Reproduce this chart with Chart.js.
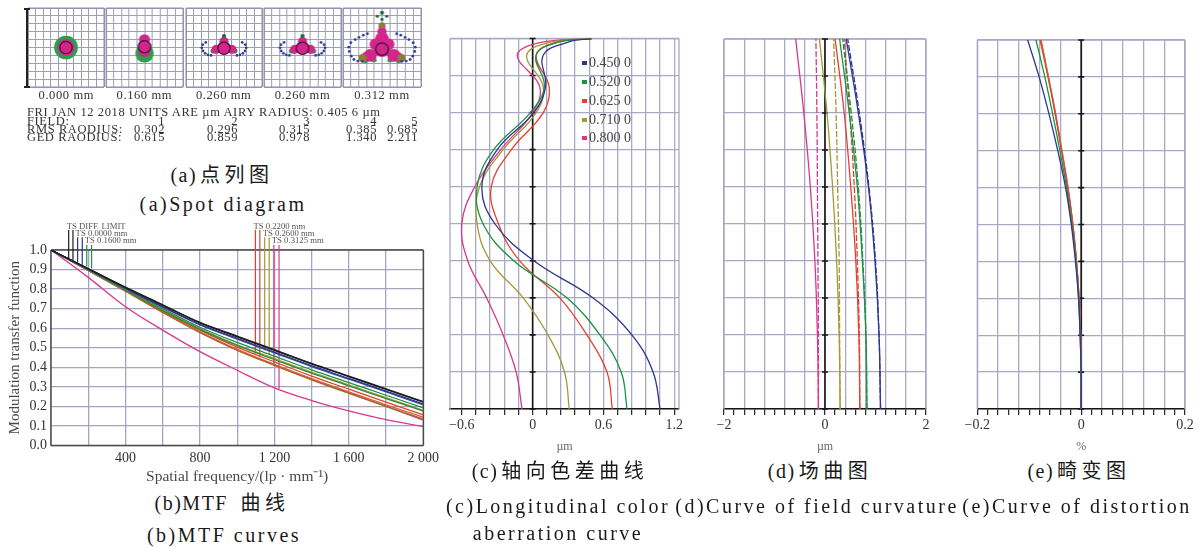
<!DOCTYPE html>
<html><head><meta charset="utf-8">
<script src="https://cdn.jsdelivr.net/npm/chart.js@4.4.1/dist/chart.umd.min.js"></script>
<style>
html,body{margin:0;padding:0;background:#fff;}
#root{position:relative;width:1198px;height:547px;overflow:hidden;background:#fff;font-family:"Liberation Serif","Times New Roman",serif;color:#222;}
#root canvas{position:absolute;}
.t{position:absolute;white-space:nowrap;line-height:1;}
.cap{font-size:20px;letter-spacing:2.5px;color:#1a1a1a;font-family:"Liberation Serif","Noto Sans CJK SC",serif;}
.capz{font-size:20px;letter-spacing:4.5px;color:#1a1a1a;font-family:"Liberation Serif","Noto Sans CJK SC",serif;}
.capz .pre{letter-spacing:1.5px;margin-right:3px;}
.sp{font-size:12.5px;letter-spacing:0.6px;color:#333;}
</style></head><body><div id="root"></div>
<script>
// ================= DATA =================
// (a) spot diagram
const spotFieldLabels = ['0.000 mm','0.160 mm','0.260 mm','0.260 mm','0.312 mm'];
const spotFieldNumbers = ['1','2','3','4','5'];
const spotRmsRadius = ['0.302','0.296','0.315','0.385','0.685'];
const spotGeoRadius = ['0.615','0.859','0.978','1.340','2.211'];
const spotHeader = 'FRI JAN 12 2018 UNITS ARE \u00b5m  AIRY RADIUS:  0.405 6 \u00b5m';
const spotAiryRadius = 0.4056;
const spotAiryCenter = [[0,0],[0,0.05],[0,-0.05],[0,-0.05],[0,-0.1]];
// blobs [x µm, y µm, radius µm]
const spotGreen = [
  [[0,0,0.78]],
  [[0,-0.38,0.6]],
  [[-0.72,-0.22,0.17],[0.72,-0.22,0.17],[0,0.48,0.18]],
  [[-0.72,-0.22,0.17],[0.72,-0.22,0.17],[0,0.48,0.18]],
  [[-1.05,-0.85,0.16],[1.05,-0.85,0.16],[-0.5,-0.8,0.16],[0.5,-0.8,0.16]]
];
const spotDarkGreen = [[],[],[[0,0.72,0.14]],[[0,0.72,0.14]],
  [[0,2.2,0.13],[-0.3,1.98,0.1],[0.3,1.98,0.1],[0,1.78,0.1]]];
const spotMagenta = [
  [[0,0,0.55]],
  [[0,0.5,0.36],[0,0.1,0.42],[0,-0.22,0.4]],
  [[0,-0.02,0.44],[-0.52,-0.12,0.3],[0.52,-0.12,0.3],[0,0.38,0.3]],
  [[0,-0.02,0.44],[-0.52,-0.12,0.3],[0.52,-0.12,0.3],[0,0.38,0.3]],
  [[0,-0.1,0.52],[-0.75,-0.5,0.42],[0.75,-0.5,0.42],[0,0.55,0.44],[-0.42,0.2,0.38],[0.42,0.2,0.38],
   [0,1.0,0.3],[-1.05,-0.6,0.3],[1.05,-0.6,0.3],[0,1.35,0.22]]
];
const spotOlive = [[],[],[],[],[[-1.25,-0.66,0.26],[1.25,-0.66,0.26],[0,1.4,0.2]]];
const spotBlue = [[],[],
  [[-1.2,0.32],[-1.4,0.18],[-1.46,-0.02],[-1.38,-0.22],[-1.24,-0.37],[-1.05,-0.46],[-0.85,-0.5],
   [1.2,0.32],[1.4,0.18],[1.46,-0.02],[1.38,-0.22],[1.24,-0.37],[1.05,-0.46],[0.85,-0.5]],
  [[-1.2,0.32],[-1.4,0.18],[-1.46,-0.02],[-1.38,-0.22],[-1.24,-0.37],[-1.05,-0.46],[-0.85,-0.5],
   [1.2,0.32],[1.4,0.18],[1.46,-0.02],[1.38,-0.22],[1.24,-0.37],[1.05,-0.46],[0.85,-0.5]],
  [[-0.94,0.87],[-1.2,0.78],[-1.48,0.64],[-1.72,0.5],[-2.0,0.3],[-2.13,0.02],[-2.1,-0.25],[-1.97,-0.55],[-1.8,-0.76],[-1.55,-0.86],[-1.26,-0.88],
   [0.94,0.87],[1.2,0.78],[1.48,0.64],[1.72,0.5],[2.0,0.3],[2.13,0.02],[2.1,-0.25],[1.97,-0.55],[1.8,-0.76],[1.55,-0.86],[1.26,-0.88]]
];

// (b) MTF
const mtfFreq  = [0,200,400,600,800,1000,1200,1400,1600,1800,2000];
const mtfDiffT = [1,0.905,0.81,0.72,0.63,0.56,0.49,0.42,0.355,0.29,0.225];
const mtfDiffS = [1,0.904,0.808,0.717,0.627,0.556,0.487,0.417,0.352,0.287,0.222];
const mtf000T  = [1,0.903,0.805,0.71,0.62,0.548,0.478,0.408,0.343,0.278,0.212];
const mtf000S  = [1,0.902,0.803,0.708,0.617,0.544,0.474,0.404,0.339,0.274,0.208];
const mtf016T  = [1,0.9,0.8,0.7,0.605,0.527,0.457,0.387,0.322,0.257,0.192];
const mtf016S  = [1,0.898,0.795,0.69,0.594,0.512,0.44,0.37,0.305,0.24,0.176];
const mtf022T  = [1,0.897,0.794,0.688,0.59,0.503,0.428,0.355,0.288,0.222,0.157];
const mtf022S  = [1,0.896,0.791,0.683,0.582,0.492,0.415,0.342,0.274,0.208,0.145];
const mtf026T  = [1,0.899,0.797,0.694,0.598,0.515,0.445,0.375,0.31,0.245,0.18];
const mtf026S  = [1,0.895,0.789,0.68,0.577,0.487,0.41,0.336,0.267,0.2,0.136];
const mtf031T  = [1,0.895,0.79,0.682,0.58,0.49,0.412,0.338,0.27,0.2,0.13];
const mtf031S  = [1,0.86,0.71,0.59,0.48,0.385,0.295,0.23,0.177,0.132,0.097];
const mtfMarkerLabels = ['TS DIFF. LIMIT','TS 0.0000 mm','TS 0.1600 mm','TS 0.2200 mm','TS 0.2600 mm','TS 0.3125 mm'];
const mtfMarkerFreq = [95,118,143,168,192,218,1098,1122,1148,1172,1197,1225];
const mtfMarkerTop  = [1.102,1.102,1.065,1.065,1.026,1.026,1.102,1.102,1.065,1.065,1.026,1.026];
const mtfMarkerEnd  = [0.955,0.945,0.935,0.925,0.915,0.905,0.47,0.453,0.487,0.462,0.41,0.29];
const mtfXTickValues = [400,800,1200,1600,2000];
const mtfXTickText   = ['400','800','1 200','1 600','2 000'];
const mtfYTickText   = ['0.0','0.1','0.2','0.3','0.4','0.5','0.6','0.7','0.8','0.9','1.0'];

// (c) longitudinal color aberration (x in µm, y = normalized pupil)
const lcaPupil = [0,0.1,0.2,0.3,0.4,0.5,0.6,0.7,0.8,0.87,0.955,0.99,1];
const lca450 = [1.08,1.02,0.84,0.51,0.01,-0.32,-0.43,-0.30,0.01,0.11,0.09,0.30,0.5];
const lca520 = [0.80,0.75,0.57,0.29,-0.16,-0.42,-0.47,-0.33,-0.02,0.10,0.03,0.22,0.5];
const lca625 = [0.675,0.63,0.46,0.23,-0.11,-0.29,-0.35,-0.18,0.09,0.14,0.03,0.2,0.5];
const lca710 = [0.31,0.27,0.13,-0.08,-0.36,-0.47,-0.45,-0.25,0.03,0.09,-0.05,0.15,0.5];
const lca800 = [-0.09,-0.14,-0.25,-0.39,-0.55,-0.60,-0.49,-0.27,0.0,0.06,-0.13,0.08,0.5];
const lcaWaveLabels = ['0.450 0','0.520 0','0.625 0','0.710 0','0.800 0'];
const lcaTickValues = [-0.6,0,0.6,1.2];
const lcaTickText   = ['\u22120.6','0','0.6','1.2'];

// (d) field curvature (x in µm, y = normalized field)
const fcField = [0,0.2,0.4,0.6,0.8,1];
const fc450T = [1.10,1.07,0.99,0.86,0.66,0.42];
const fc450S = [1.10,1.07,1.00,0.87,0.68,0.45];
const fc520T = [0.83,0.81,0.74,0.64,0.48,0.29];
const fc520S = [0.83,0.81,0.75,0.66,0.52,0.35];
const fc625T = [0.69,0.67,0.61,0.51,0.38,0.20];
const fc625S = [0.69,0.68,0.64,0.58,0.49,0.38];
const fc710T = [0.30,0.28,0.23,0.15,0.04,-0.11];
const fc710S = [0.30,0.29,0.28,0.25,0.22,0.17];
const fc800T = [-0.13,-0.15,-0.20,-0.29,-0.42,-0.58];
const fc800S = [-0.13,-0.13,-0.14,-0.15,-0.16,-0.18];
const fcTickValues = [-2,0,2];
const fcTickText   = ['\u22122','0','2'];

// (e) distortion (x in %, y = normalized field)
const dsField = [0,0.1,0.2,0.3,0.4,0.5,0.6,0.7,0.8,0.9,1];
const ds450 = [0,0,-0.002,-0.005,-0.011,-0.019,-0.030,-0.045,-0.062,-0.081,-0.103];
const ds520 = [0,0,-0.002,-0.005,-0.010,-0.018,-0.028,-0.041,-0.055,-0.070,-0.087];
const ds625 = [0,0,-0.001,-0.004,-0.009,-0.016,-0.026,-0.038,-0.050,-0.064,-0.079];
const ds710 = [0,0,-0.001,-0.004,-0.009,-0.016,-0.026,-0.037,-0.050,-0.063,-0.078];
const ds800 = [0,0,-0.001,-0.004,-0.009,-0.016,-0.025,-0.037,-0.049,-0.063,-0.077];
const dsTickValues = [-0.2,0,0.2];
const dsTickText   = ['\u22120.2','0','0.2'];

// ================= STYLE / LAYOUT =================
const SERIF = '"Liberation Serif", "Times New Roman", serif';
const COL = {black:'#1e1e1e', blue:'#2f3590', green:'#1e9142', red:'#e2412e', olive:'#a09b35', pink:'#d9378d',
             grid:'#a9a9c6', magenta:'#d4268a', dgreen:'#1b6b3a', sgreen:'#2c9e4c', sblue:'#2c3a9c', sOlive:'#8c7d36', airy:'#3a1838'};
const root = document.getElementById('root');
Chart.defaults.font.family = SERIF;
Chart.defaults.animation = false;
Chart.defaults.responsive = false;
Chart.defaults.events = [];
Chart.defaults.layout.autoPadding = false;
Chart.defaults.plugins.legend.display = false;
Chart.defaults.plugins.tooltip.enabled = false;

const framePlugin = {
  id:'frame',
  beforeDatasetsDraw(chart, args, o){
    if(!o || !o.color) return;
    const {ctx, chartArea:a} = chart; const s = o.sides || 'ltrb';
    ctx.save(); ctx.strokeStyle = o.color; ctx.lineWidth = o.width || 1; ctx.beginPath();
    if(s.includes('l')){ctx.moveTo(a.left,a.top);ctx.lineTo(a.left,a.bottom);}
    if(s.includes('r')){ctx.moveTo(a.right,a.top);ctx.lineTo(a.right,a.bottom);}
    if(s.includes('t')){ctx.moveTo(a.left,a.top);ctx.lineTo(a.right,a.top);}
    if(s.includes('b')){ctx.moveTo(a.left,a.bottom);ctx.lineTo(a.right,a.bottom);}
    ctx.stroke(); ctx.restore();
  }
};
const zeroAxisPlugin = {
  id:'zeroAxis',
  beforeDatasetsDraw(chart, args, o){
    if(!o || !o.on) return;
    const {ctx, chartArea:a, scales} = chart;
    const x = scales.x.getPixelForValue(0);
    ctx.save(); ctx.strokeStyle = '#151515'; ctx.lineWidth = 1.6; ctx.beginPath();
    ctx.moveTo(x,a.top); ctx.lineTo(x,a.bottom);
    scales.y.ticks.forEach(t=>{const y = scales.y.getPixelForValue(t.value); ctx.moveTo(x-3,y); ctx.lineTo(x+3,y);});
    ctx.stroke(); ctx.restore();
  }
};
Chart.register(framePlugin, zeroAxisPlugin);

function addCanvas(l,t,w,h){
  const c = document.createElement('canvas');
  c.width = w; c.height = h;
  c.style.left = l+'px'; c.style.top = t+'px'; c.style.width = w+'px'; c.style.height = h+'px';
  root.appendChild(c); return c;
}
function txt(s, x, y, cls, css, anchor){
  const d = document.createElement('div');
  d.className = 't ' + (cls||''); d.textContent = s;
  if(css) d.style.cssText += css;
  d.style.left = x+'px'; d.style.top = y+'px';
  const tr = {c:'translate(-50%,-50%)', l:'translate(0,-50%)', r:'translate(-100%,-50%)'}[anchor||'c'];
  d.style.transform = tr;
  root.appendChild(d); return d;
}
function capZh(pre, rest, x, y){
  const d = txt('', x, y, 'capz', '', 'c');
  const a = document.createElement('span'); a.className = 'pre'; a.textContent = pre;
  const b = document.createElement('span'); b.textContent = rest;
  d.appendChild(a); d.appendChild(b);
}
const onStep = (v, step) => Math.abs(v/step - Math.round(v/step)) < 1e-6;

// ================= (a) SPOT DIAGRAM =================
const spotBoxes = [[28.3,8.3,76,79],[106,8.3,76.7,79],[185.7,8.3,76,79],[264.3,8.3,76.4,79],[343.3,8.3,77.4,79]];
const spotRadius = ctx => {
  const a = ctx.chart.chartArea;
  if(!a || !ctx.raw || ctx.raw.s === undefined) return 0;
  return ctx.raw.s * (a.right - a.left) / 5;
};
const blobs = arr => arr.map(b => ({x:b[0], y:b[1], s:b[2]}));
spotBoxes.forEach((b, i) => {
  const cv = addCanvas(b[0]-1, b[1]-1, b[2]+2, b[3]+2);
  const ds = [
    {data:[{x:spotAiryCenter[i][0], y:spotAiryCenter[i][1], s:spotAiryRadius}], pointBackgroundColor:'rgba(0,0,0,0)', pointBorderColor:COL.airy, pointBorderWidth:1.3},
    {data:blobs(spotDarkGreen[i]), pointBackgroundColor:COL.dgreen, pointBorderWidth:0},
    {data:spotBlue[i].map(p=>({x:p[0], y:p[1], s:0.09})), pointBackgroundColor:COL.sblue, pointBorderWidth:0},
    {data:blobs(spotOlive[i]), pointBackgroundColor:COL.sOlive, pointBorderWidth:0},
    {data:blobs(spotMagenta[i]), pointBackgroundColor:COL.magenta, pointBorderWidth:0},
    {data:blobs(spotGreen[i]), pointBackgroundColor:COL.sgreen, pointBorderWidth:0}
  ];
  ds.forEach(d => { d.pointRadius = spotRadius; d.borderWidth = 0; });
  new Chart(cv, {
    type:'scatter', data:{datasets:ds},
    options:{
      layout:{padding:1, autoPadding:false},
      scales:{
        x:{min:-2.5,max:2.5,afterFit:s=>{s.height=0;},ticks:{display:false,stepSize:0.5},grid:{color:'#9d9dbb',lineWidth:1,drawTicks:false},border:{display:false}},
        y:{min:-2.5,max:2.5,afterFit:s=>{s.width=0;},ticks:{display:false,stepSize:0.5},grid:{color:'#9d9dbb',lineWidth:1,drawTicks:false},border:{display:false}}
      },
      plugins:{frame:{color:'#8c8ca8',width:1}}
    }
  });
  txt(spotFieldLabels[i], b[0]+b[2]/2, 95, 'sp', '', 'c');
});
// scale bar
(function(){
  const d = document.createElement('div');
  d.style.cssText = 'position:absolute;left:25.5px;top:8.3px;width:2px;height:79px;background:#222;';
  root.appendChild(d);
  ['8.3','86.3'].forEach(y=>{const c=document.createElement('div'); c.style.cssText='position:absolute;left:23.5px;top:'+y+'px;width:6px;height:1.5px;background:#222;'; root.appendChild(c);});
})();
txt(spotHeader, 27, 112, 'sp', '', 'l');
const spotColEnds = [165,238,310,377,418];
txt('FIELD:', 27, 120.5, 'sp', '', 'l');
txt('RMS RAODIUS:', 27, 128.5, 'sp', '', 'l');
txt('GED RAODIUS:', 27, 137, 'sp', '', 'l');
spotColEnds.forEach((x,i)=>{
  txt(spotFieldNumbers[i], x, 120.5, 'sp', '', 'r');
  txt(spotRmsRadius[i], x, 128.5, 'sp', '', 'r');
  txt(spotGeoRadius[i], x, 137, 'sp', '', 'r');
});
capZh('(a)', '点列图', 222, 175);
txt('(a)Spot diagram', 223, 204, 'cap', '', 'c');

// ================= (b) MTF =================
const mtfSeries = [
  [mtfDiffT, COL.black],[mtfDiffS, COL.black],[mtf000T, COL.blue],[mtf000S, '#3a4bb0'],
  [mtf016T, COL.green],[mtf016S, '#2f8a3a'],[mtf026T, COL.olive],[mtf022T, COL.red],
  [mtf022S, '#d8602a'],[mtf026S, '#9a6a30'],[mtf031T, COL.pink],[mtf031S, COL.pink]
];
const mtfMarkerColors = [COL.black,COL.black,COL.blue,COL.blue,COL.green,COL.green,COL.red,COL.red,COL.olive,COL.olive,COL.pink,COL.pink];
const mtfDatasets = [];
mtfSeries.forEach(s => mtfDatasets.push({
  data: mtfFreq.map((f,i)=>({x:f, y:s[0][i]})), showLine:true, borderColor:s[1], borderWidth:1.3, pointRadius:0, cubicInterpolationMode:'monotone'
}));
mtfMarkerFreq.forEach((f,i) => mtfDatasets.push({
  data:[{x:f, y:mtfMarkerTop[i]},{x:f, y:mtfMarkerEnd[i]}], showLine:true, borderColor:mtfMarkerColors[i], borderWidth:1.2, pointRadius:0, clip:false
}));
const MTF_L = 0, MTF_T = 215;
const mtfCanvas = addCanvas(MTF_L, MTF_T, 445, 275);
const mtfChart = new Chart(mtfCanvas, {
  type:'scatter', data:{datasets:mtfDatasets},
  options:{
    layout:{padding:{left:0, top:35, right:21.7, bottom:0}},
    scales:{
      x:{type:'linear', min:0, max:2000, afterFit:s=>{s.height=44.5;},
         ticks:{stepSize:200, autoSkip:false, maxRotation:0, padding:4, color:'#333', font:{size:14},
                callback:v=>{const i=mtfXTickValues.indexOf(v); return i<0?'':mtfXTickText[i];}},
         grid:{color:'#a3a3c2', lineWidth:1.3, drawTicks:false}, border:{display:false},
         title:{display:true, text:'Spatial frequency/(lp \u00b7 mm\u207b\u00b9)', color:'#4a4a4a', font:{size:15.5}, padding:{top:0,bottom:4}}},
      y:{type:'linear', min:0, max:1, afterFit:s=>{s.width=51;},
         ticks:{stepSize:0.1, autoSkip:false, padding:4, color:'#333', font:{size:14},
                callback:v=>mtfYTickText[Math.round(v*10)]},
         grid:{color:'#a3a3c2', lineWidth:1.3, drawTicks:false}, border:{display:false},
         title:{display:true, text:'Modulation transfer function', color:'#4a4a4a', font:{size:15}, padding:{top:6}}}
    },
    plugins:{frame:{color:'#4a4a4a', width:1.4}}
  }
});
[0,2,4,6,8,10].forEach((mi, k) => {
  const x = MTF_L + mtfChart.scales.x.getPixelForValue(mtfMarkerFreq[mi]) - 2;
  const y = MTF_T + mtfChart.scales.y.getPixelForValue(mtfMarkerTop[mi]) - 4.5;
  txt(mtfMarkerLabels[k], x, y, '', 'font-size:8.7px;color:#555;', 'l');
});
capZh('(b)MTF', ' 曲线', 222, 503);
txt('(b)MTF curves', 224, 535, 'cap', '', 'c');

// ================= (c)(d)(e) aberration charts =================
function aberrScales(xmin, xmax, tickStep, gridStep, tickVals, tickText, title){
  return {
    x:{type:'linear', min:xmin, max:xmax, afterFit:s=>{s.height=51;},
       ticks:{stepSize:tickStep, includeBounds:false, autoSkip:false, maxRotation:0, padding:2, color:'#333', font:{size:14},
              callback:v=>{const i=tickVals.findIndex(u=>Math.abs(u-v)<1e-6); return i<0?'':tickText[i];}},
       grid:{color:c=>(c.tick && onStep(c.tick.value, gridStep))?COL.grid:'rgba(0,0,0,0)', lineWidth:1.3, tickColor:'#222', tickLength:6, tickWidth:1.2},
       border:{display:true, color:'#151515', width:1.6},
       title:{display:true, text:title, color:'#666', font:{size:12}, padding:{top:0,bottom:6}}},
    y:{type:'linear', min:0, max:1, afterFit:s=>{s.width=0;},
       ticks:{display:false, stepSize:0.1},
       grid:{color:COL.grid, lineWidth:1.3, drawTicks:false}, border:{display:false}}
  };
}
const curve = (xs, ys, color, dash) => ({
  data: ys.map((y,i)=>({x:xs[i], y:y})), showLine:true, borderColor:color, borderWidth:1.3, pointRadius:0, tension:0.4,
  borderDash: dash || []
});
const waveColors = [COL.blue, COL.green, COL.red, COL.olive, COL.pink];

// (c)
const lcaSets = [lca450, lca520, lca625, lca710, lca800];
new Chart(addCanvas(440,30,250,430), {
  type:'scatter',
  data:{datasets: lcaSets.map((s,i)=>curve(s, lcaPupil, waveColors[i]))},
  options:{
    layout:{padding:{left:10, top:8.5, right:11, bottom:0}},
    scales: aberrScales(-0.7, 1.24, 0.12, 0.12, lcaTickValues, lcaTickText, '\u00b5m'),
    plugins:{frame:{color:COL.grid, width:1.3, sides:'ltr'}, zeroAxis:{on:true}}
  }
});
lcaWaveLabels.forEach((lab, i) => {
  const y = 63.3 + i*18.75;
  const m = document.createElement('div');
  m.style.cssText = 'position:absolute;left:582px;top:'+(y-2)+'px;width:5px;height:4px;background:'+waveColors[i]+';';
  root.appendChild(m);
  txt(lab, 589, y, '', 'font-size:14px;color:#444;', 'l');
});
capZh('(c)', '轴向色差曲线', 560, 471);
txt('(c)Longitudinal color', 558, 506, 'cap', '', 'c');
txt('aberration curve', 558, 533, 'cap', '', 'c');

// (d)
const fcSets = [[fc450T,fc450S],[fc520T,fc520S],[fc625T,fc625S],[fc710T,fc710S],[fc800T,fc800S]];
const fcDatasets = [];
fcSets.forEach((p,i)=>{ fcDatasets.push(curve(p[0], fcField, waveColors[i])); fcDatasets.push(curve(p[1], fcField, waveColors[i], [6,2])); });
new Chart(addCanvas(700,30,250,430), {
  type:'scatter', data:{datasets:fcDatasets},
  options:{
    layout:{padding:{left:24, top:9, right:24, bottom:0}},
    scales: aberrScales(-2, 2, 0.2, 0.4, fcTickValues, fcTickText, '\u00b5m'),
    plugins:{frame:{color:COL.grid, width:1.3, sides:'ltr'}, zeroAxis:{on:true}}
  }
});
capZh('(d)', '场曲图', 820, 471);
txt('(d)Curve of field curvature', 817, 506, 'cap', '', 'c');

// (e)
const dsSets = [ds450, ds520, ds625, ds710, ds800];
new Chart(addCanvas(950,30,248,430), {
  type:'scatter', data:{datasets: dsSets.map((s,i)=>curve(s, dsField, waveColors[i]))},
  options:{
    layout:{padding:{left:27.3, top:10, right:13, bottom:0}},
    scales: aberrScales(-0.2, 0.2, 0.02, 0.04, dsTickValues, dsTickText, '%'),
    plugins:{frame:{color:COL.grid, width:1.3, sides:'ltr'}, zeroAxis:{on:true}}
  }
});
capZh('(e)', '畸变图', 1079, 471);
txt('(e)Curve of distortion', 1077, 506, 'cap', '', 'c');
</script></body></html>
